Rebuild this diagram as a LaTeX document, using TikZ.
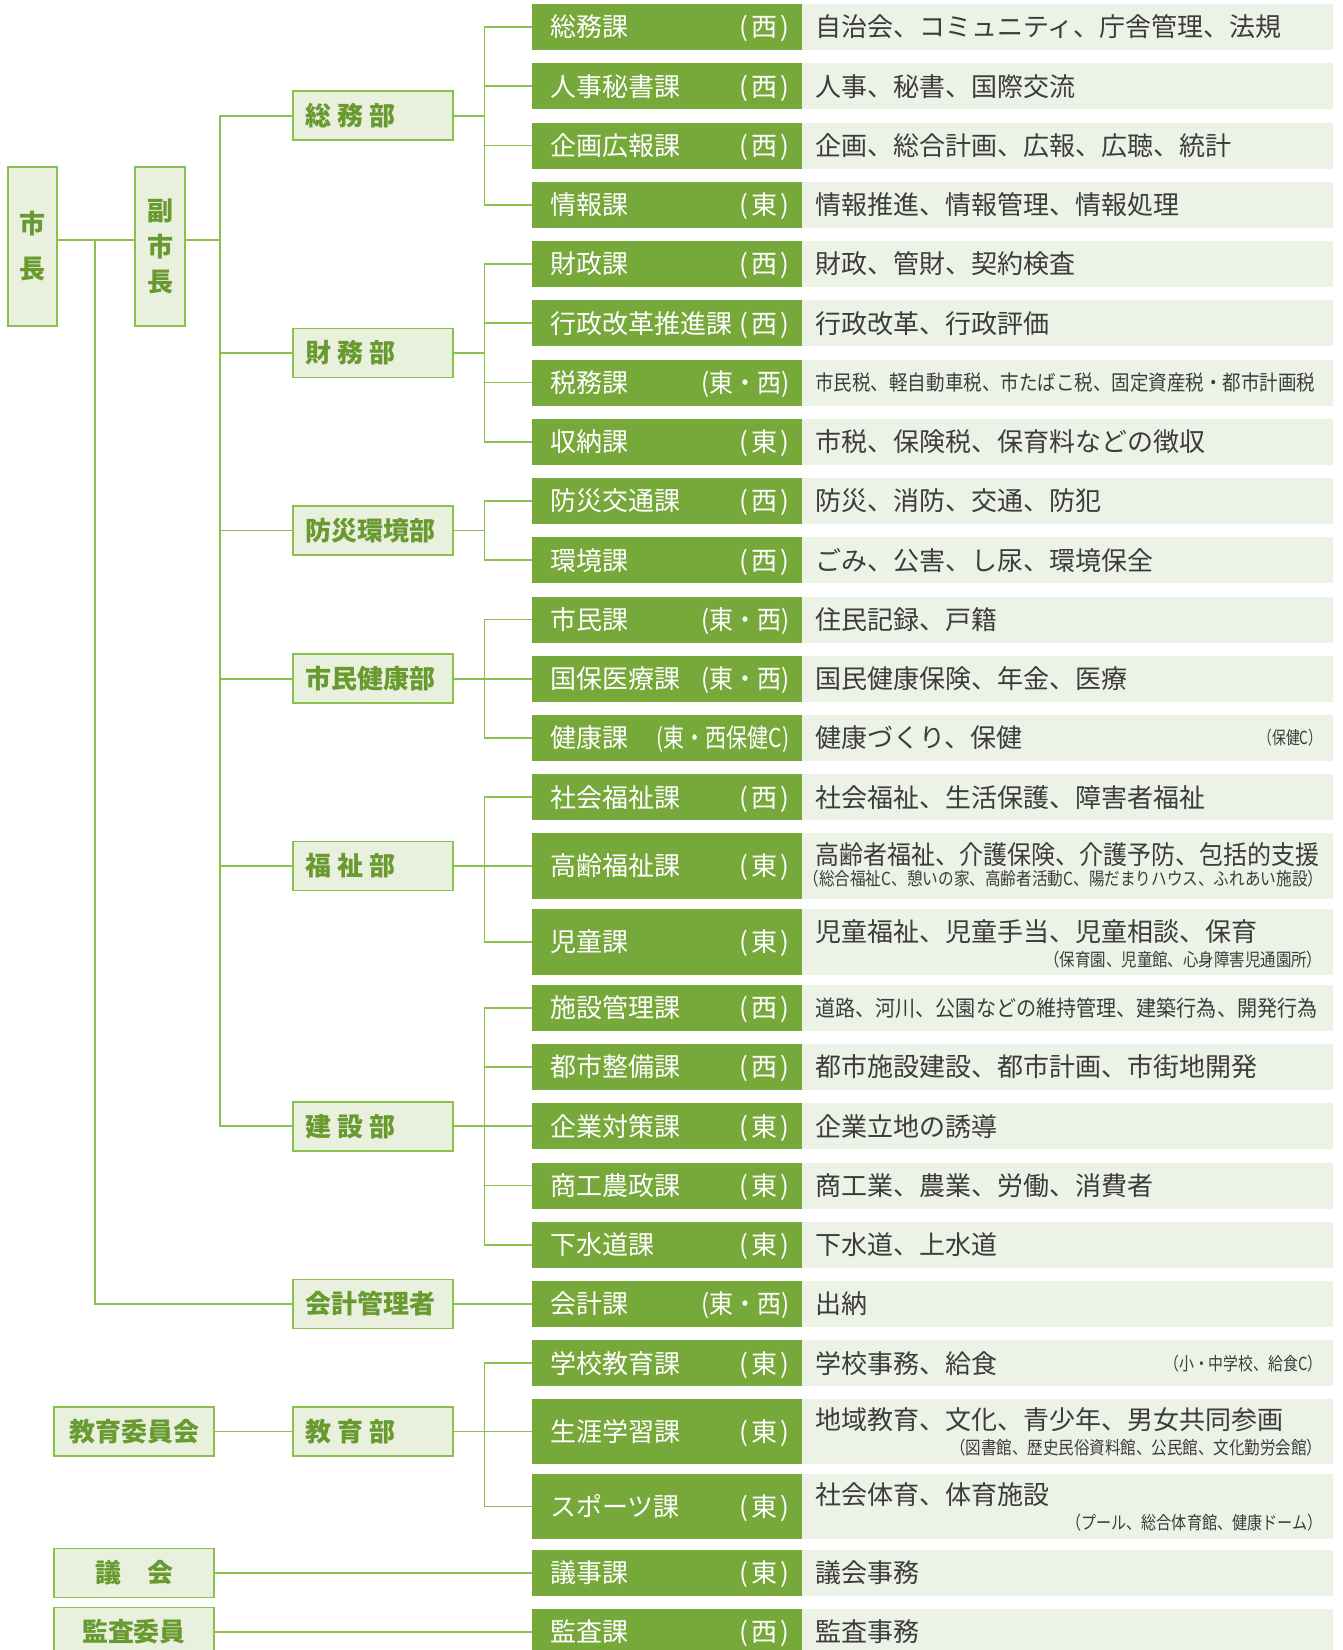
\documentclass[tikz,border=0pt]{standalone}
\usepackage{fontspec}
\usepackage{graphicx}
\setmainfont{Noto Sans CJK JP}
\definecolor{ln}{RGB}{137,193,76}
\definecolor{bxfill}{RGB}{233,240,222}
\definecolor{deptxt}{RGB}{104,154,48}
\definecolor{secfill}{RGB}{118,168,58}
\definecolor{descfill}{RGB}{237,242,231}
\definecolor{desctxt}{RGB}{60,60,60}
\tikzset{
  conn/.style={draw=ln, line width=0.8pt},
  vbox/.style={draw=ln, line width=0.8pt, fill=bxfill, text=deptxt, inner sep=0pt, minimum width=24.5pt, align=center},
  gbox/.style={draw=ln, line width=0.8pt, fill=bxfill, text=deptxt, font=\fontsize{13}{15}\selectfont\bfseries, inner sep=0pt, minimum width=80pt, minimum height=24.5pt, text height=11pt, text depth=1.2pt},
  deptbox/.style={gbox, anchor=west},
  secbox/.style={anchor=west, fill=secfill, text=white, minimum width=135pt, inner sep=0pt, font=\fontsize{13}{15}\selectfont, text height=11pt, text depth=1.2pt},
  descbox/.style={anchor=west, fill=descfill, text=desctxt, minimum width=265.5pt, inner sep=0pt, font=\fontsize{13}{15}\selectfont, text height=11pt, text depth=1.2pt},
  desctxt/.style={text=desctxt, inner sep=0pt, font=\fontsize{13}{15}\selectfont, text height=11pt, text depth=1.2pt},
  notetxt/.style={text=desctxt, inner sep=0pt, font=\fontsize{9}{10}\selectfont, text height=7.6pt, text depth=0.8pt}
}
\newcommand\lc[1]{(\kern1.5pt#1\kern1.5pt)}
\newcommand\lcw[1]{\resizebox{44pt}{\height}{(#1)}}
\newcommand\sectrow[6]{%
  \node[secbox, minimum height=#3] (s#1) at (532,#2) {\makebox[135pt][l]{\hspace{9pt}#4\hfill#5\hspace{6.5pt}}};
  \node[descbox, minimum height=#3] (e#1) at (802,#2) {\makebox[265.5pt][l]{\hspace{6.5pt}#6}};
}
\newcommand\dept[3]{\node[deptbox] (#1) at (292,#2) {\makebox[67pt][l]{#3}};}
\begin{document}
\begin{tikzpicture}[x=0.5pt,y=-0.5pt]
\useasboundingbox (0,0) rectangle (1343,1650);
\clip (0,0) rectangle (1343,1650);

% top boxes
\node[vbox, minimum height=79.5pt, font=\fontsize{13}{22.5}\selectfont\bfseries] (mayor) at (32.5,246.5) {市\\長};
\node[vbox, minimum width=25pt, minimum height=79.5pt, font=\fontsize{13}{17.75}\selectfont\bfseries] (vice) at (160,246.5) {副\\市\\長};

% departments
\dept{d1}{115.75}{総\hspace{3pt}務\hspace{3pt}部}
\dept{d2}{352.9}{財\hspace{3pt}務\hspace{3pt}部}
\dept{d3}{530.6}{防災環境部}
\dept{d4}{678.75}{市民健康部}
\dept{d5}{866}{福\hspace{3pt}祉\hspace{3pt}部}
\dept{d6}{1126.25}{建\hspace{3pt}設\hspace{3pt}部}
\dept{d7}{1304}{会計管理者}
\dept{d8}{1431.5}{教\hspace{3pt}育\hspace{3pt}部}

\node[gbox] (g1) at (134,1431.5) {教育委員会};
\node[gbox] (g2) at (134,1573) {議　会};
\node[gbox] (g3) at (134,1632) {監査委員};

% sections
\sectrow{1}{27}{23pt}{総務課}{\lc{西}}{自治会、コミュニティ、庁舎管理、法規}
\sectrow{2}{86.25}{23pt}{人事秘書課}{\lc{西}}{人事、秘書、国際交流}
\sectrow{3}{145.5}{23pt}{企画広報課}{\lc{西}}{企画、総合計画、広報、広聴、統計}
\sectrow{4}{204.75}{23pt}{情報課}{\lc{東}}{情報推進、情報管理、情報処理}
\sectrow{5}{264}{23pt}{財政課}{\lc{西}}{財政、管財、契約検査}
\sectrow{6}{323.25}{23pt}{行政改革推進課}{\lc{西}}{行政改革、行政評価}
\sectrow{7}{382.5}{23pt}{税務課}{\lcw{東・西}}{\raisebox{0.8pt}{\resizebox{250pt}{\height}{\fontsize{10.5}{12}\selectfont 市民税、軽自動車税、市たばこ税、固定資産税・都市計画税}}}
\sectrow{8}{441.75}{23pt}{収納課}{\lc{東}}{市税、保険税、保育料などの徴収}
\sectrow{9}{501}{23pt}{防災交通課}{\lc{西}}{防災、消防、交通、防犯}
\sectrow{10}{560.25}{23pt}{環境課}{\lc{西}}{ごみ、公害、し尿、環境保全}
\sectrow{11}{619.5}{23pt}{市民課}{\lcw{東・西}}{住民記録、戸籍}
\sectrow{12}{678.75}{23pt}{国保医療課}{\lcw{東・西}}{国民健康保険、年金、医療}
\sectrow{13}{738}{23pt}{健康課}{\resizebox{66.5pt}{\height}{(東・西保健C)}}{健康づくり、保健}
\sectrow{14}{797.25}{23pt}{社会福祉課}{\lc{西}}{社会福祉、生活保護、障害者福祉}
\sectrow{15}{866}{33pt}{高齢福祉課}{\lc{東}}{}
\sectrow{16}{942}{33pt}{児童課}{\lc{東}}{}
\sectrow{17}{1007.75}{23pt}{施設管理課}{\lc{西}}{\raisebox{0.6pt}{\resizebox{251pt}{\height}{\fontsize{11}{12}\selectfont 道路、河川、公園などの維持管理、建築行為、開発行為}}}
\sectrow{18}{1067}{23pt}{都市整備課}{\lc{西}}{都市施設建設、都市計画、市街地開発}
\sectrow{19}{1126.25}{23pt}{企業対策課}{\lc{東}}{企業立地の誘導}
\sectrow{20}{1185.5}{23pt}{商工農政課}{\lc{東}}{商工業、農業、労働、消費者}
\sectrow{21}{1244.75}{23pt}{下水道課}{\lc{東}}{下水道、上水道}
\sectrow{22}{1304}{23pt}{会計課}{\lcw{東・西}}{出納}
\sectrow{23}{1363.25}{23pt}{学校教育課}{\lc{東}}{学校事務、給食}
\sectrow{24}{1431.5}{32.5pt}{生涯学習課}{\lc{東}}{}
\sectrow{25}{1506.5}{32.5pt}{スポーツ課}{\lc{東}}{}
\sectrow{26}{1573}{23pt}{議事課}{\lc{東}}{議会事務}
\sectrow{27}{1632}{23pt}{監査課}{\lc{西}}{監査事務}

% two-line descriptions and notes
\node[notetxt, anchor=east] (n13) at ([xshift=-5.5pt]e13.east) {\resizebox{32pt}{\height}{（保健C）}};
\node[desctxt, anchor=west] (m15) at ([xshift=6.5pt,yshift=5.5pt]e15.west) {\resizebox{252pt}{\height}{高齢者福祉、介護保険、介護予防、包括的支援}};
\node[notetxt, anchor=east] (n15) at ([xshift=-5pt,yshift=-6.5pt]e15.east) {\resizebox{260pt}{\height}{（総合福祉C、憩いの家、高齢者活動C、陽だまりハウス、ふれあい施設）}};
\node[desctxt, anchor=west] (m16) at ([xshift=6.5pt,yshift=5.25pt]e16.west) {児童福祉、児童手当、児童相談、保育};
\node[notetxt, anchor=east] (n16) at ([xshift=-5.5pt,yshift=-9pt]e16.east) {\resizebox{139pt}{\height}{（保育園、児童館、心身障害児通園所）}};
\node[notetxt, anchor=east] (n23) at ([xshift=-5.5pt]e23.east) {\resizebox{79pt}{\height}{（小・中学校、給食C）}};
\node[desctxt, anchor=west] (m24) at ([xshift=6.5pt,yshift=5.75pt]e24.west) {地域教育、文化、青少年、男女共同参画};
\node[notetxt, anchor=east] (n24) at ([xshift=-5.5pt,yshift=-8.25pt]e24.east) {\resizebox{186pt}{\height}{（図書館、歴史民俗資料館、公民館、文化勤労会館）}};
\node[desctxt, anchor=west] (m25) at ([xshift=6.5pt,yshift=6pt]e25.west) {社会体育、体育施設};
\node[notetxt, anchor=east] (n25) at ([xshift=-5.5pt,yshift=-8.25pt]e25.east) {\resizebox{128pt}{\height}{（プール、総合体育館、健康ドーム）}};

% connectors
\coordinate (j0) at (94.7,240);
\coordinate (t0) at (219.7,240);
\draw[conn] (mayor.east |- j0) -- (vice.west |- j0);
\draw[conn] (j0) |- (d7.west);
\draw[conn] (vice.east |- t0) -- (t0);
\foreach \d in {d1,d2,d3,d4,d5,d6} \draw[conn] (\d.west) -| (t0);

\foreach \d/\list in {d1/{1,2,3,4}, d2/{5,6,7,8}, d3/{9,10}, d4/{11,12,13}, d5/{14,15,16}, d6/{17,18,19,20,21}, d8/{23,24,25}} {
  \path (\d.east) ++(15.5pt,0) coordinate (b\d);
  \draw[conn] (\d.east) -- (b\d);
  \foreach \s in \list \draw[conn] (b\d) |- (s\s.west);
}
\draw[conn] (d7.east) -- (s22.west);
\draw[conn] (g1.east) -- (d8.west);
\draw[conn] (g2.east) -- (s26.west);
\draw[conn] (g3.east) -- (s27.west);
\end{tikzpicture}
\end{document}
